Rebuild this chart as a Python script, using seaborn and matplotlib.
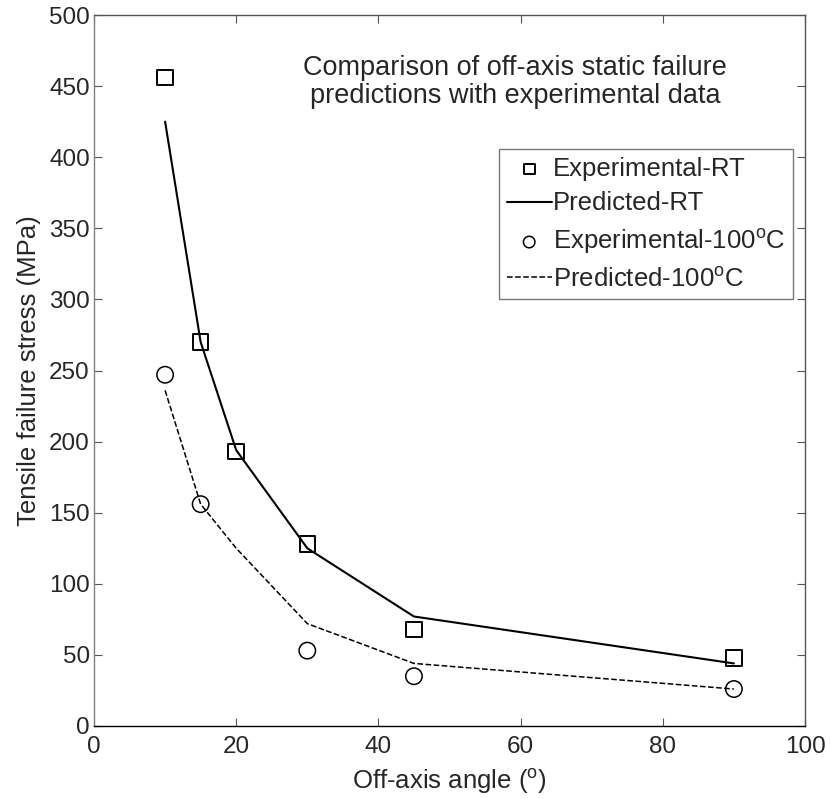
import matplotlib
matplotlib.use('Agg')
import matplotlib.pyplot as plt
import seaborn as sns
import pandas as pd

# experimental and predicted failure stress (MPa) vs off-axis angle
exp_rt_angle = [10, 15, 20, 30, 45, 90]
exp_rt_stress = [456, 270, 193, 128, 68, 48]
pred_rt_angle = [10, 15, 20, 30, 45, 90]
pred_rt_stress = [425, 270, 194, 125, 77, 44]
exp_hot_angle = [10, 15, 30, 45, 90]
exp_hot_stress = [247, 156, 53, 35, 26]
pred_hot_angle = [10, 15, 20, 30, 45, 90]
pred_hot_stress = [236, 156, 125, 72, 44, 26]

sns.set_style('ticks')
plt.rcParams['font.family'] = ['Liberation Sans', 'DejaVu Sans']
plt.rcParams['mathtext.fontset'] = 'custom'
plt.rcParams['mathtext.rm'] = 'Liberation Sans'
plt.rcParams['font.size'] = 13

fig = plt.figure(figsize=(8.3, 7.99), dpi=100)
ax = fig.add_axes([94 / 830, 73 / 799, 711 / 830, 711 / 799])

sns.scatterplot(x=exp_rt_angle, y=exp_rt_stress, ax=ax, marker='s', s=125,
                facecolor='none', edgecolor='k', linewidth=1.4, label='Experimental-RT')
sns.lineplot(x=pred_rt_angle, y=pred_rt_stress, ax=ax, color='k', linewidth=1.5,
             label='Predicted-RT')
sns.scatterplot(x=exp_hot_angle, y=exp_hot_stress, ax=ax, marker='o', s=140,
                facecolor='none', edgecolor='k', linewidth=1.1, label=r'Experimental-100$^{\mathrm{o}}$C')
sns.lineplot(x=pred_hot_angle, y=pred_hot_stress, ax=ax, color='k', linewidth=1.1,
             linestyle='--', dashes=(7, 4), label=r'Predicted-100$^{\mathrm{o}}$C')

ax.set_xlim(0, 100)
ax.set_ylim(0, 500)
ax.set_xticks(range(0, 101, 20))
ax.set_yticks(range(0, 501, 50))
ax.tick_params(direction='in', top=True, right=True, labelsize=17.5, length=6,
               color='#555555')
ax.tick_params(axis='x', pad=7)
ax.tick_params(axis='y', pad=3)
for sp in ax.spines.values():
    sp.set_visible(True)
    sp.set_linewidth(1.0)
ax.spines['left'].set_color('#808080')
ax.spines['bottom'].set_color('k')
ax.spines['top'].set_color('#555555')
ax.spines['right'].set_color('#555555')
ax.set_xlabel(r'Off-axis angle ($^{\mathrm{o}}$)', fontsize=18.5, labelpad=6)
ax.set_ylabel('Tensile failure stress (MPa)', fontsize=18.5, labelpad=6)

ax.text(0.592, 0.906, 'Comparison of off-axis static failure\npredictions with experimental data',
        transform=ax.transAxes, ha='center', va='center', fontsize=19.5, linespacing=1.1)

leg = ax.legend(loc='upper right', bbox_to_anchor=(699 / 711, 577 / 711), frameon=True,
                fancybox=False, edgecolor='#555555', fontsize=18.5, handlelength=1.75,
                handletextpad=0.05, borderpad=0.3, labelspacing=0.42, borderaxespad=0,
                markerscale=0.7)
leg.get_frame().set_linewidth(1.0)

fig.savefig('out.png', dpi=100)
